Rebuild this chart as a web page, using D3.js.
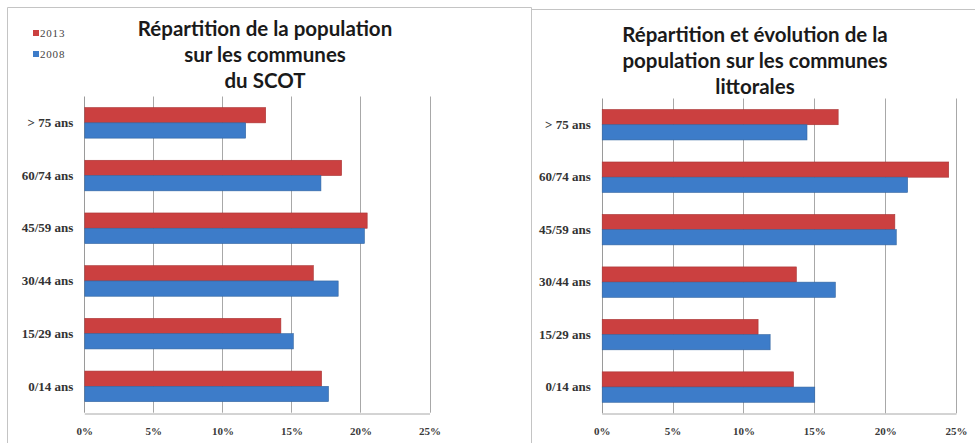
<!DOCTYPE html>
<html>
<head>
<meta charset="utf-8">
<script src="https://cdn.jsdelivr.net/npm/d3@7"></script>
<style>
  html, body { margin: 0; padding: 0; background: #ffffff; }
  svg { display: block; }
</style>
</head>
<body>
<svg id="chart" width="975" height="443"></svg>
<script>
// Age groups, listed from the top of each chart to the bottom
const ageGroups = ["> 75 ans", "60/74 ans", "45/59 ans", "30/44 ans", "15/29 ans", "0/14 ans"];
const years = ["2013", "2008"];

// Share of the population per age group (%), SCOT communes
const scot2013 = [13.1, 18.6, 20.45, 16.55, 14.2, 17.15];
const scot2008 = [11.65, 17.1, 20.25, 18.35, 15.1, 17.65];

// Share of the population per age group (%), coastal communes
const littoral2013 = [16.65, 24.45, 20.65, 13.7, 11.0, 13.5];
const littoral2008 = [14.45, 21.55, 20.75, 16.45, 11.85, 15.0];

// Horizontal axis ticks
const tickValues = [0, 5, 10, 15, 20, 25];
const tickLabels = ["0%", "5%", "10%", "15%", "20%", "25%"];

const colors = { "2013": "#cb4040", "2008": "#3d7cc9" };
const strokes = { "2013": "#a83434", "2008": "#32649f" };

const svg = d3.select("#chart");

// Panel frames
svg.append("path")
  .attr("d", "M7.5,443 V7.5 H531.5 V443")
  .attr("fill", "none").attr("stroke", "#c4c4c4").attr("stroke-width", 1);
svg.append("path")
  .attr("d", "M531.5,9.5 H975")
  .attr("fill", "none").attr("stroke", "#c4c4c4").attr("stroke-width", 1);

function drawChart(cfg) {
  const g = svg.append("g");
  const rows = ageGroups.map((a, i) => ({ age: a, "2013": cfg.v2013[i], "2008": cfg.v2008[i] }));

  const x = d3.scaleLinear().domain([0, 25]).range([cfg.x0, cfg.x1]);
  const y = d3.scaleBand().domain(ageGroups).range([cfg.y0, cfg.y1])
    .paddingInner(0.42).paddingOuter(0.21);
  const ySub = d3.scaleBand().domain(years).range([0, y.bandwidth()]);

  // Vertical gridlines
  g.append("g").selectAll("line").data(tickValues).join("line")
    .attr("x1", d => Math.round(x(d)) + 0.5).attr("x2", d => Math.round(x(d)) + 0.5)
    .attr("y1", cfg.y0).attr("y2", cfg.y1)
    .attr("stroke", d => d === 0 ? "#9a9a9a" : "#a8a8a8").attr("stroke-width", 1);

  // Horizontal axis line with tick labels
  const axis = d3.axisBottom(x).tickValues(tickValues)
    .tickFormat((d, i) => tickLabels[i]).tickSize(0).tickPadding(14);
  const ax = g.append("g").attr("transform", `translate(0,${Math.round(cfg.y1) + 0.5})`).call(axis);
  ax.select(".domain").attr("stroke", "#a8a8a8");
  ax.selectAll("text")
    .attr("font-family", "'Liberation Serif', 'DejaVu Serif', serif")
    .attr("font-weight", "bold").attr("font-size", 11).attr("fill", "#3a3a3a");

  // Category labels
  const ay = d3.axisLeft(y).tickSize(0).tickPadding(11);
  const yAx = g.append("g").attr("transform", `translate(${cfg.x0},0)`).call(ay);
  yAx.select(".domain").remove();
  yAx.selectAll("text")
    .attr("font-family", "'Liberation Serif', 'DejaVu Serif', serif")
    .attr("font-weight", "bold").attr("font-size", 13).attr("fill", "#333");

  // Bars
  g.append("g").selectAll("g").data(rows).join("g")
    .attr("transform", d => `translate(0,${y(d.age)})`)
    .selectAll("rect").data(d => years.map(k => ({ key: k, value: d[k] }))).join("rect")
    .attr("x", x(0) + 0.5)
    .attr("y", d => ySub(d.key))
    .attr("width", d => x(d.value) - x(0))
    .attr("height", ySub.bandwidth())
    .attr("fill", d => colors[d.key])
    .attr("stroke", d => strokes[d.key]).attr("stroke-width", 0.6);

  // Title
  const title = g.append("text")
    .attr("text-anchor", "middle")
    .attr("font-family", "Lato, 'Open Sans', sans-serif")
    .attr("font-weight", "bold").attr("font-size", 20.5).attr("fill", "#1a1a1a");
  cfg.title.forEach((line, i) => {
    title.append("tspan").attr("x", cfg.titleX).attr("y", cfg.titleY + i * 26).text(line);
  });
}

drawChart({
  v2013: scot2013, v2008: scot2008,
  x0: 84.3, x1: 429.5, y0: 96.5, y1: 412.7,
  title: ["Répartition de la population", "sur les communes", "du SCOT"],
  titleX: 265, titleY: 36
});

drawChart({
  v2013: littoral2013, v2008: littoral2008,
  x0: 601.7, x1: 956, y0: 98.5, y1: 413.3,
  title: ["Répartition et évolution de la", "population sur les communes", "littorales"],
  titleX: 755, titleY: 42
});

// Legend of the first chart
const legend = svg.append("g");
years.forEach((yr, i) => {
  const row = legend.append("g").attr("transform", `translate(33,${33 + i * 21})`);
  row.append("rect").attr("x", 0).attr("y", -3).attr("width", 6).attr("height", 6)
    .attr("fill", colors[yr]);
  row.append("text").attr("x", 7).attr("y", 4)
    .attr("font-family", "'Liberation Serif', 'DejaVu Serif', serif")
    .attr("font-size", 11).attr("letter-spacing", 0.8).attr("fill", "#444")
    .text(yr);
});
</script>
</body>
</html>
